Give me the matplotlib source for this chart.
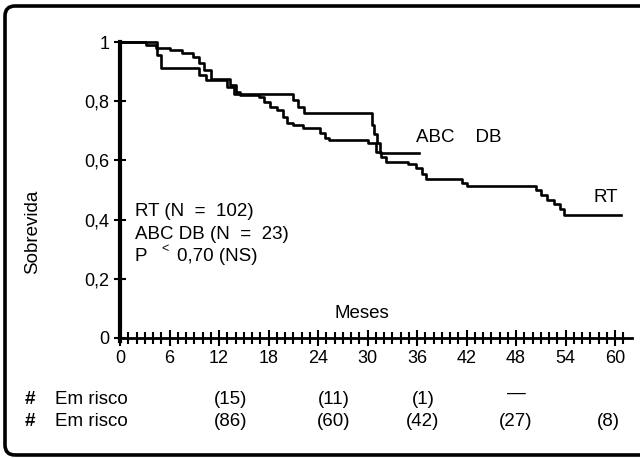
import matplotlib
matplotlib.use("Agg")
import matplotlib.pyplot as plt
from matplotlib.patches import FancyBboxPatch
import numpy as np

plt.rcParams['font.family'] = ['Liberation Sans', 'DejaVu Sans']

# ---- data ----
rt_months = [0, 3.2, 4.4, 6.0, 7.5, 8.8, 9.6, 10.2, 11.0, 13.3, 14.0, 14.5, 16.8, 17.4,
             18.2, 19.0, 19.7, 20.3, 21.0, 22.2, 24.3, 24.9, 25.3, 30.1, 31.0, 31.6,
             32.2, 34.9, 35.9, 36.6, 37.1, 41.5, 42.1, 50.4, 51.0, 51.7, 52.6, 53.3,
             53.8, 60.7]
rt_surv = [1.0, 0.99, 0.98, 0.973, 0.962, 0.950, 0.928, 0.905, 0.875, 0.855, 0.832, 0.821,
           0.815, 0.798, 0.781, 0.770, 0.748, 0.727, 0.720, 0.708, 0.692, 0.675, 0.669,
           0.658, 0.63, 0.61, 0.596, 0.588, 0.573, 0.554, 0.537, 0.525, 0.514, 0.500,
           0.483, 0.466, 0.453, 0.435, 0.416, 0.416]

abc_months = [0, 4.5, 5.0, 9.6, 10.4, 13.0, 13.8, 21.0, 21.6, 22.3, 30.5, 30.8, 31.1,
              31.5, 36.2]
abc_surv = [1.0, 0.957, 0.913, 0.89, 0.87, 0.848, 0.826, 0.804, 0.782, 0.760, 0.72,
            0.69, 0.66, 0.626, 0.626]

x_ticks = [0, 6, 12, 18, 24, 30, 36, 42, 48, 54, 60]
y_ticks = [0, 0.2, 0.4, 0.6, 0.8, 1.0]
y_ticklabels = ["0", "0,2", "0,4", "0,6", "0,8", "1"]

risk_abc = ["(15)", "(11)", "(1)", "—", ""]
risk_rt = ["(86)", "(60)", "(42)", "(27)", "(8)"]

# ---- figure ----
W, H = 640, 458
fig = plt.figure(figsize=(6.4, 4.58), dpi=100)

ax_left, ax_bottom = 120 / W, 120 / H
ax_w = (120 + 62 * 8.25 - 120) / W
ax_h = 296 / H
ax = fig.add_axes([ax_left, ax_bottom, ax_w, ax_h])
ax.set_xlim(0, 62)
ax.set_ylim(0, 1.0)

ax.step(rt_months, rt_surv, where='post', color='black', lw=1.9, clip_on=False)
ax.step(abc_months, abc_surv, where='post', color='black', lw=1.9, clip_on=False)

for s in ['top', 'right']:
    ax.spines[s].set_visible(False)
ax.spines['left'].set_linewidth(3.0)
ax.spines['bottom'].set_linewidth(2.0)
ax.spines['left'].set_bounds(-0.01, 1.0)

ax.set_xticks(x_ticks)
ax.set_xticklabels([str(t) for t in x_ticks])
minor = [m for m in range(1, 62) if m % 6 != 0]
ax.set_xticks(minor, minor=True)
ax.set_yticks(y_ticks)
ax.set_yticklabels(y_ticklabels)

ax.tick_params(axis='x', which='major', direction='inout', length=11, width=1.5,
               labelsize=13, pad=3)
ax.tick_params(axis='x', which='minor', direction='inout', length=8, width=1.5)
ax.tick_params(axis='y', which='major', direction='inout', length=9, width=1.5,
               labelsize=13, pad=3)

# annotations inside plot
fs = 13.5
ax.text(1.8, 0.429, "RT (N  =  102)", fontsize=fs, va='center', ha='left')
ax.text(1.8, 0.348, "ABC DB (N  =  23)", fontsize=fs, va='center', ha='left')
ax.text(1.8, 0.277, "P", fontsize=fs, va='center', ha='left')
ax.text(5.0, 0.300, "<", fontsize=9, va='center', ha='left')
ax.text(6.9, 0.277, "0,70 (NS)", fontsize=fs, va='center', ha='left')

ax.text(29.3, 0.084, "Meses", fontsize=fs, va='center', ha='center')
ax.text(35.9, 0.677, "ABC    DB", fontsize=fs, va='center', ha='left')
ax.text(57.4, 0.476, "RT", fontsize=fs, va='center', ha='left')

fig.text(33 / W, 1 - 232 / H, "Sobrevida", rotation=90, fontsize=fs,
         va='center', ha='center')

# at-risk table
col_x = [231, 334, 423, 516, 608]
row_y = [1 - 399 / H, 1 - 421 / H]
for ry, vals in zip(row_y, [risk_abc, risk_rt]):
    fig.text(30 / W, ry, "#", fontsize=fs, va='center', ha='center', fontweight='bold')
    fig.text(55 / W, ry, "Em risco", fontsize=fs, va='center', ha='left')
    for cx, v in zip(col_x, vals):
        yy = ry + (0.012 if v == "—" else 0)
        fig.text(cx / W, yy, v, fontsize=fs, va='center', ha='center')

# frame
frame = FancyBboxPatch((5, 3), 680, 449, boxstyle="round,pad=0,rounding_size=10",
                       transform=None, fill=False, edgecolor='black', lw=2.6)
fig.add_artist(frame)

fig.savefig("out.png", dpi=100)
